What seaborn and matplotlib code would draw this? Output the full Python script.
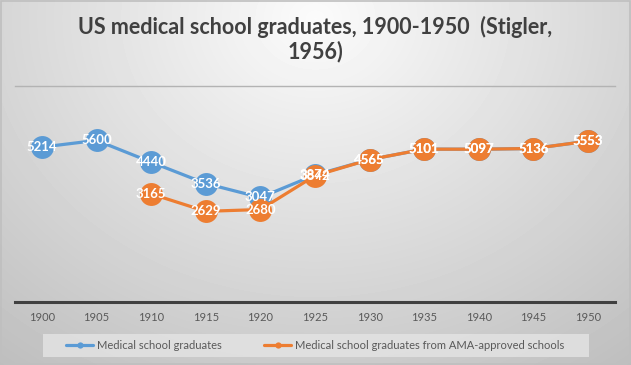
import numpy as np
import pandas as pd
import matplotlib.pyplot as plt
import seaborn as sns
from matplotlib.patches import Rectangle
from matplotlib.lines import Line2D

# data
years = [1900, 1905, 1910, 1915, 1920, 1925, 1930, 1935, 1940, 1945, 1950]
all_grads = [5214, 5600, 4440, 3536, 3047, 3874, 4565, 5101, 5097, 5136, 5553]
ama_grads = [np.nan, np.nan, 3165, 2629, 2680, 3842, 4565, 5101, 5097, 5136, 5553]
labels = ["Medical school graduates",
          "Medical school graduates from AMA-approved schools"]
colors = ["#5B9BD5", "#ED7D31"]

df = pd.DataFrame({"year": years, labels[0]: all_grads, labels[1]: ama_grads})

sns.set_style("white")
plt.rcParams["font.family"] = ["Lato", "DejaVu Sans"]

fig = plt.figure(figsize=(6.31, 3.65), dpi=100)

# radial grey background like the Excel chart area
bg = fig.add_axes([0, 0, 1, 1], zorder=-10)
xx, yy = np.meshgrid(np.linspace(0, 1, 631), np.linspace(0, 1, 365))
r = np.sqrt(((xx - 0.5) / 0.75) ** 2 + ((yy - 0.05) / 1.1) ** 2)
shade = 0.985 - 0.22 * np.clip(r, 0, 1.2)
bg.imshow(shade, cmap="gray", vmin=0, vmax=1, aspect="auto", extent=[0, 1, 1, 0])
bg.set_xlim(0, 1)
bg.set_ylim(1, 0)
bg.axis("off")
fig.patches.append(Rectangle((0.001, 0.002), 0.997, 0.995, transform=fig.transFigure,
                             fill=False, edgecolor="#bfbfbf", linewidth=1.2))

ax = fig.add_axes([14.7 / 631, 1 - 302 / 365, 600.6 / 631, 216 / 365])
ax.set_facecolor("none")

for lab, col in zip(labels, colors):
    sns.lineplot(data=df, x="year", y=lab, ax=ax, color=col, linewidth=2.3,
                 marker="o", markersize=16.5, markeredgewidth=0, label=lab, legend=False)

for lab in labels:
    for x, v in zip(df["year"], df[lab]):
        if not np.isnan(v):
            ax.text(x, v, f"{int(v)}", ha="center", va="center", color="white",
                    fontsize=9.5, fontweight="bold", zorder=10)

ax.set_yscale("log")
ax.set_ylim(1000, 10000)
ax.set_xlim(1897.5, 1952.5)
ax.set_xticks(years)
ax.set_xticklabels([str(y) for y in years], color="#595959", fontsize=8)
ax.set_yticks([])
ax.minorticks_off()
ax.set_yticks([], minor=True)
ax.tick_params(axis="x", length=0, pad=7)
ax.set_xlabel("")
ax.set_ylabel("")
for s in ["left", "right"]:
    ax.spines[s].set_visible(False)
ax.spines["bottom"].set_color("#404040")
ax.spines["bottom"].set_linewidth(2.2)
ax.spines["top"].set_color("#b3b3b3")
ax.spines["top"].set_linewidth(1)

fig.text(0.5, 1 - 27 / 365, "US medical school graduates, 1900-1950  (Stigler,",
         ha="center", va="center", fontsize=15.5, fontweight="bold", color="#404040")
fig.text(0.5, 1 - 52 / 365, "1956)", ha="center", va="center",
         fontsize=15.5, fontweight="bold", color="#404040")

# legend box
fig.patches.append(Rectangle((43 / 631, 1 - 357 / 365), 546 / 631, 23 / 365,
                             transform=fig.transFigure, facecolor="#e4e4e4",
                             edgecolor="none", alpha=0.8, zorder=-5))
handles = [Line2D([], [], color=c, linewidth=2.3, marker="o", markersize=4.5,
                  markeredgewidth=0) for c in colors]
fig.legend(handles, labels, loc="center", bbox_to_anchor=(0.5, 1 - 345.5 / 365),
           ncol=2, frameon=False, fontsize=8, labelcolor="#595959",
           handlelength=2.4, handletextpad=0.4, columnspacing=3.8)

fig.savefig("out.png", dpi=100)
